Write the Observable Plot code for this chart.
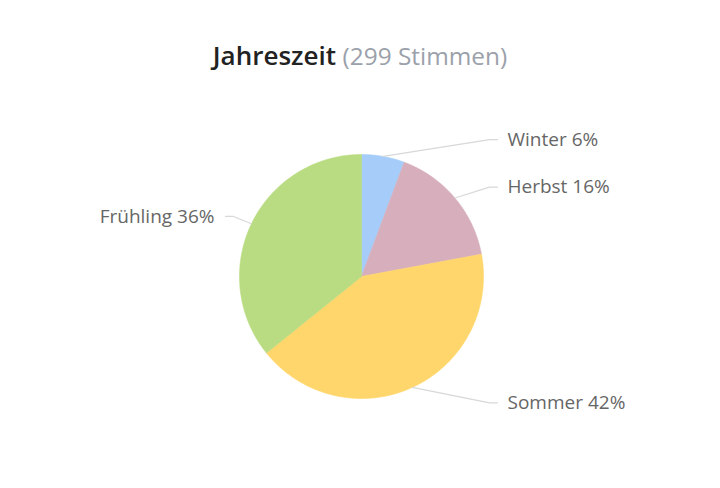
<!DOCTYPE html>
<html><head><meta charset="utf-8">
<script src="https://cdn.jsdelivr.net/npm/d3@7"></script>
<script src="https://cdn.jsdelivr.net/npm/@observablehq/plot@0.6"></script>
<style>
body{margin:0;background:#fff;font-family:"Open Sans",sans-serif;}
#title{height:100px;box-sizing:border-box;padding-top:40px;text-align:center;font-size:25px;line-height:30px;white-space:nowrap;}
#title .main{color:#222;font-weight:600;font-size:26px;}
#title .sub{color:#9ba1aa;font-size:24.4px;}
</style></head><body>
<div id="title"><span class="main">Jahreszeit</span> <span class="sub">(299 Stimmen)</span></div>
<div id="chart"></div>
<script>
const categories = ["Winter", "Herbst", "Sommer", "Frühling"];
const votes = [17, 49, 126, 107];
const colors = ["#a6cdf9", "#d7afbc", "#ffd66b", "#b9dc82"];

const total = d3.sum(votes);
const W = 720, H = 388, cx = 361, cy = 176, R = 122;
const labelDX = 146 / R, labelDY = 139 / R, gap = 10 / R, elbow = 8 / R;

const arcs = d3.pie().sort(null).value(d => d.value)(
  categories.map((c, i) => ({name: c, value: votes[i], color: colors[i]}))
);

const slices = arcs.map(p => {
  const pts = [{x: 0, y: 0}];
  const n = Math.max(2, Math.ceil((p.endAngle - p.startAngle) / 0.01));
  for (let k = 0; k <= n; k++) {
    const a = p.startAngle + (p.endAngle - p.startAngle) * k / n;
    pts.push({x: Math.sin(a), y: Math.cos(a)});
  }
  pts.push({x: 0, y: 0});
  return {name: p.data.name, color: p.data.color, pts};
});

const labels = arcs.map(p => {
  const mid = (p.startAngle + p.endAngle) / 2;
  const side = Math.sin(mid) >= 0 ? 1 : -1;
  return {
    name: p.data.name, side, mid,
    text: `${p.data.name} ${Math.round(100 * p.data.value / total)}%`,
    x: side * labelDX, y: Math.cos(mid) * labelDY
  };
});

const leaders = labels.flatMap(l => [
  {name: l.name, x: Math.sin(l.mid), y: Math.cos(l.mid)},
  {name: l.name, x: l.side * (labelDX - gap - elbow), y: l.y},
  {name: l.name, x: l.side * (labelDX - gap), y: l.y}
]);

const chart = Plot.plot({
  width: W, height: H, margin: 0,
  style: {fontFamily: "'Open Sans', sans-serif", background: "white"},
  x: {domain: [-1, 1], range: [cx - R, cx + R], axis: null},
  y: {domain: [-1, 1], range: [cy + R, cy - R], axis: null},
  marks: [
    ...slices.map(s => Plot.line(s.pts, {x: "x", y: "y", fill: s.color, stroke: s.color, strokeWidth: 0.6, curve: "linear"})),
    Plot.line(leaders, {x: "x", y: "y", z: "name", stroke: "#d8d8d8", strokeWidth: 1.2}),
    Plot.text(labels.filter(l => l.side > 0), {x: "x", y: "y", text: "text", textAnchor: "start", fill: "#666", fontSize: 19}),
    Plot.text(labels.filter(l => l.side < 0), {x: "x", y: "y", text: "text", textAnchor: "end", fill: "#666", fontSize: 19, dx: -1})
  ]
});
document.getElementById("chart").append(chart);
</script>
</body></html>
